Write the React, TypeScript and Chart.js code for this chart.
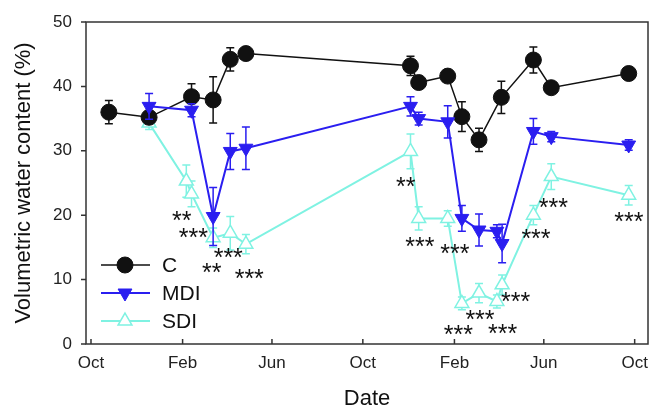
import { useEffect, useRef } from 'react';
import { Chart, registerables } from 'chart.js';

Chart.register(...registerables);

// x values are days counted from 1 October of the first season
const tickDays = [0, 123, 243, 365, 488, 608, 730];
const tickLabels = ['Oct', 'Feb', 'Jun', 'Oct', 'Feb', 'Jun', 'Oct'];
const yTickValues = [0, 10, 20, 30, 40, 50];

const cDays = [24, 78, 135, 164, 187, 208, 429, 440, 479, 498, 521, 551, 594, 618, 722];
const cVals = [36.0, 35.2, 38.4, 37.9, 44.2, 45.1, 43.2, 40.6, 41.6, 35.3, 31.7, 38.3, 44.1, 39.8, 42.0];
const cErr = [1.8, 0.8, 2.0, 3.6, 1.8, 0.8, 1.5, 0.8, 0.8, 2.3, 1.8, 2.5, 2.0, 0.8, 0.8];

const mdiDays = [78, 135, 164, 187, 208, 429, 440, 479, 498, 521, 545, 552, 594, 618, 722];
const mdiVals = [36.9, 36.3, 19.8, 29.9, 30.4, 36.9, 35.0, 34.5, 19.5, 17.7, 17.5, 15.6, 33.0, 32.2, 30.9];
const mdiErr = [2.0, 1.0, 4.5, 2.8, 3.3, 1.5, 1.0, 2.5, 2.0, 2.5, 1.0, 3.0, 2.0, 0.8, 0.8];

const sdiDays = [78, 128, 135, 164, 187, 208, 429, 440, 479, 498, 521, 545, 552, 594, 618, 722];
const sdiVals = [34.3, 25.3, 23.3, 16.5, 17.2, 15.5, 29.9, 19.5, 19.5, 6.3, 7.9, 6.6, 9.2, 20.0, 26.0, 23.1];
const sdiErr = [1.0, 2.5, 2.0, 1.5, 2.6, 1.5, 2.7, 1.8, 1.2, 1.0, 1.5, 1.0, 1.5, 1.5, 2.0, 1.5];

const starDays = [121.8, 137.4, 184.3, 162, 212.5, 422.5, 441.7, 488.7, 522.3, 493.2, 552.8, 570.2, 597.5, 620.7, 722.3];
const starVals = [19.9, 17.2, 14.1, 11.8, 10.9, 25.2, 15.9, 14.7, 4.5, 2.2, 2.4, 7.3, 17.1, 21.9, 19.7];
const starText = ['**', '***', '***', '**', '***', '**', '***', '***', '***', '***', '***', '***', '***', '***', '***'];

const seriesNames = ['C', 'MDI', 'SDI'];

const FONT = "'Liberation Sans', Arial, sans-serif";
const BLACK = '#111111';
const BLUE = '#2a1ef0';
const CYAN = '#7ff2e2';
const AXIS = '#333333';

const toPts = (xs: number[], ys: number[]) => xs.map((x, i) => ({ x, y: ys[i] }));

const errorBars = {
  id: 'errorBars',
  beforeDatasetDraw(chart: any, args: any) {
    const ds = chart.data.datasets[args.index];
    const errs: number[] | undefined = ds.errs;
    if (!errs) return;
    const { ctx } = chart;
    const xs = chart.scales.x;
    const ys = chart.scales.y;
    ctx.save();
    ctx.strokeStyle = ds.borderColor;
    ctx.lineWidth = 1.5;
    ds.data.forEach((p: any, i: number) => {
      const e = errs[i];
      if (!e) return;
      const px = xs.getPixelForValue(p.x);
      const top = ys.getPixelForValue(p.y + e);
      const bot = ys.getPixelForValue(p.y - e);
      ctx.beginPath();
      ctx.moveTo(px, top);
      ctx.lineTo(px, bot);
      ctx.moveTo(px - 4, top);
      ctx.lineTo(px + 4, top);
      ctx.moveTo(px - 4, bot);
      ctx.lineTo(px + 4, bot);
      ctx.stroke();
    });
    ctx.restore();
  },
};

const frame = {
  id: 'frame',
  beforeDatasetsDraw(chart: any) {
    const { ctx, chartArea } = chart;
    const xs = chart.scales.x;
    const ys = chart.scales.y;
    ctx.save();
    ctx.strokeStyle = AXIS;
    ctx.lineWidth = 1.5;
    ctx.strokeRect(chartArea.left, chartArea.top, chartArea.right - chartArea.left, chartArea.bottom - chartArea.top);
    ctx.beginPath();
    tickDays.forEach((d) => {
      const px = xs.getPixelForValue(d);
      ctx.moveTo(px, chartArea.bottom);
      ctx.lineTo(px, chartArea.bottom - 5);
    });
    yTickValues.forEach((v) => {
      const py = ys.getPixelForValue(v);
      ctx.moveTo(chartArea.left, py);
      ctx.lineTo(chartArea.left - 5, py);
    });
    ctx.stroke();
    ctx.restore();
  },
  afterDatasetsDraw(chart: any) {
    const { ctx } = chart;
    const xs = chart.scales.x;
    const ys = chart.scales.y;
    ctx.save();
    // significance stars
    ctx.fillStyle = '#111';
    ctx.font = `25px ${FONT}`;
    ctx.textAlign = 'center';
    ctx.textBaseline = 'alphabetic';
    starText.forEach((t, i) => {
      const px = xs.getPixelForValue(starDays[i]);
      const py = ys.getPixelForValue(starVals[i]);
      const m = ctx.measureText(t);
      const asc = m.actualBoundingBoxAscent;
      const desc = m.actualBoundingBoxDescent;
      ctx.fillText(t, px, py + (asc - desc) / 2);
    });

    // legend
    const rows = [265, 293, 321];
    const x1 = 101, x2 = 150, xm = 125;
    chart.data.datasets.forEach((ds: any, i: number) => {
      const y = rows[i];
      ctx.strokeStyle = ds.borderColor;
      ctx.lineWidth = ds.borderWidth;
      ctx.beginPath();
      ctx.moveTo(x1, y);
      ctx.lineTo(x2, y);
      ctx.stroke();
      ctx.beginPath();
      if (ds.pointStyle === 'circle') {
        ctx.arc(xm, y, ds.pointRadius, 0, Math.PI * 2);
      } else {
        const r = ds.pointRadius;
        const dir = ds.pointRotation === 180 ? 1 : -1;
        ctx.moveTo(xm, y + dir * r);
        ctx.lineTo(xm + r * Math.sin(Math.PI / 3), y - dir * r / 2);
        ctx.lineTo(xm - r * Math.sin(Math.PI / 3), y - dir * r / 2);
        ctx.closePath();
      }
      ctx.fillStyle = ds.pointBackgroundColor;
      ctx.fill();
      ctx.lineWidth = ds.pointBorderWidth;
      ctx.strokeStyle = ds.pointBorderColor;
      ctx.stroke();
      ctx.fillStyle = '#111';
      ctx.font = `21px ${FONT}`;
      ctx.textAlign = 'left';
      ctx.textBaseline = 'middle';
      ctx.fillText(seriesNames[i], 162, y + 1);
    });

    // axis titles
    ctx.fillStyle = '#111';
    ctx.font = `22px ${FONT}`;
    ctx.textAlign = 'center';
    ctx.textBaseline = 'middle';
    ctx.fillText('Date', 367, 399);
    ctx.translate(24, 183);
    ctx.rotate(-Math.PI / 2);
    ctx.fillText('Volumetric water content (%)', 0, 0);
    ctx.restore();
  },
};

export default function App() {
  const ref = useRef<HTMLCanvasElement | null>(null);

  useEffect(() => {
    if (!ref.current) return;
    const chart = new Chart(ref.current, {
      type: 'line',
      data: {
        datasets: [
          {
            label: 'C',
            data: toPts(cDays, cVals),
            errs: cErr,
            borderColor: BLACK,
            borderWidth: 1.5,
            pointStyle: 'circle',
            pointRadius: 8,
            pointBackgroundColor: BLACK,
            pointBorderColor: BLACK,
            pointBorderWidth: 1,
            tension: 0,
            order: 2,
          } as any,
          {
            label: 'MDI',
            data: toPts(mdiDays, mdiVals),
            errs: mdiErr,
            borderColor: BLUE,
            borderWidth: 2,
            pointStyle: 'triangle',
            pointRotation: 180,
            pointRadius: 8,
            pointBackgroundColor: BLUE,
            pointBorderColor: BLUE,
            pointBorderWidth: 1,
            tension: 0,
            order: 1,
          } as any,
          {
            label: 'SDI',
            data: toPts(sdiDays, sdiVals),
            errs: sdiErr,
            borderColor: CYAN,
            borderWidth: 2,
            pointStyle: 'triangle',
            pointRotation: 0,
            pointRadius: 8,
            pointBackgroundColor: '#ffffff',
            pointBorderColor: CYAN,
            pointBorderWidth: 1.5,
            tension: 0,
            order: 3,
          } as any,
        ],
      },
      options: {
        animation: false,
        responsive: false,
        devicePixelRatio: 1,
        layout: { autoPadding: false, padding: { top: 22, right: 1, left: 0, bottom: 0 } },
        plugins: { legend: { display: false }, tooltip: { enabled: false } },
        scales: {
          x: {
            type: 'linear',
            min: -6.7,
            max: 747.9,
            grid: { display: false, drawTicks: false },
            border: { display: false },
            afterBuildTicks: (s: any) => {
              s.ticks = tickDays.map((v) => ({ value: v }));
            },
            afterFit: (s: any) => {
              s.height = 66;
              s.paddingLeft = 0;
              s.paddingRight = 0;
            },
            ticks: {
              autoSkip: false,
              maxRotation: 0,
              padding: 9,
              color: '#222',
              font: { family: FONT, size: 17 },
              callback: (v: any) => {
                const i = tickDays.indexOf(Number(v));
                return i >= 0 ? tickLabels[i] : '';
              },
            },
          },
          y: {
            type: 'linear',
            min: 0,
            max: 50,
            grid: { display: false, drawTicks: false },
            border: { display: false },
            afterBuildTicks: (s: any) => {
              s.ticks = yTickValues.map((v) => ({ value: v }));
            },
            afterFit: (s: any) => {
              s.width = 86;
              s.paddingTop = 0;
              s.paddingBottom = 0;
            },
            ticks: {
              padding: 14,
              color: '#222',
              font: { family: FONT, size: 17 },
            },
          },
        },
      },
      plugins: [errorBars, frame],
    });
    return () => chart.destroy();
  }, []);

  return (
    <div style={{ position: 'fixed', left: 0, top: 0, width: 649, height: 410, background: '#fff' }}>
      <canvas ref={ref} width={649} height={410} />
    </div>
  );
}
